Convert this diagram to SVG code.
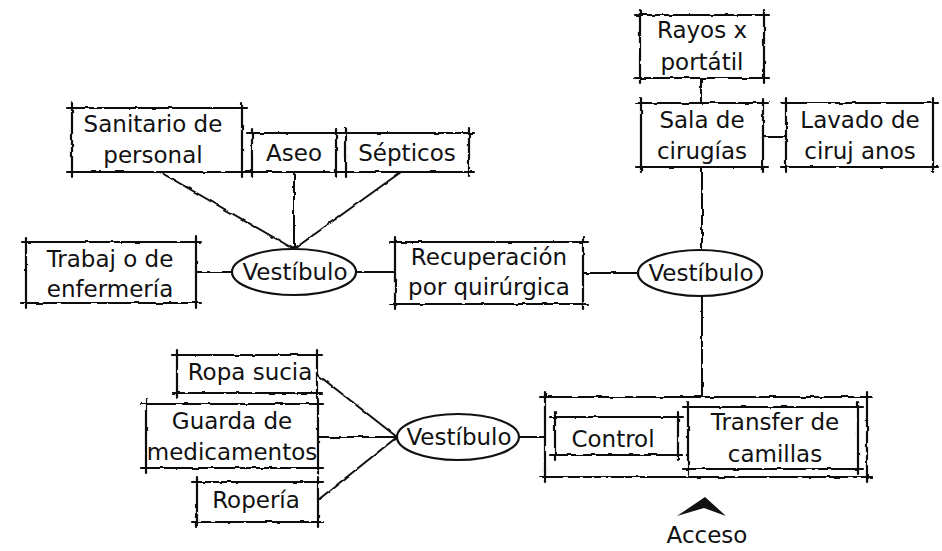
<svg xmlns="http://www.w3.org/2000/svg" width="942" height="551" viewBox="0 0 942 551">
<style>
.box{fill:none;stroke:#111;stroke-width:2.2;stroke-linecap:round;filter:url(#rough)}
.ell{fill:#fff;stroke:#111;stroke-width:2.2}
.con{fill:none;stroke:#111;stroke-width:2;filter:url(#rough)}
.t{font-family:"DejaVu Sans","Liberation Sans",sans-serif;font-size:23px;fill:#111;text-anchor:middle}
</style>
<defs>
<filter id="rough" filterUnits="userSpaceOnUse" x="0" y="0" width="942" height="551">
<feTurbulence type="fractalNoise" baseFrequency="0.12" numOctaves="1" seed="4" result="n"/>
<feDisplacementMap in="SourceGraphic" in2="n" scale="3" xChannelSelector="R" yChannelSelector="G"/>
</filter>
</defs>
<rect width="942" height="551" fill="#fff"/>
<g id="connectors">
<path class="con" d="M160,172 L294,249"/>
<path class="con" d="M294,172 L294,249"/>
<path class="con" d="M401,172 L294,249"/>
<path class="con" d="M196,272 L232,272"/>
<path class="con" d="M356,272 L395,272"/>
<path class="con" d="M583,273 L638,273"/>
<path class="con" d="M701,78 L701,103"/>
<path class="con" d="M763,137 L786,137"/>
<path class="con" d="M702,167 L702,250"/>
<path class="con" d="M702,296 L702,397"/>
<path class="con" d="M318,375 L397,437"/>
<path class="con" d="M318,437 L397,437"/>
<path class="con" d="M318,500 L397,437"/>
<path class="con" d="M519,437 L545,437"/>
</g>
<g id="sanitario">
<path class="box" d="M67,108H247M67,172H247M72,103V177M242,103V177"/>
<text class="t" x="153" y="132">Sanitario de</text>
<text class="t" x="153" y="163">personal</text>
</g>
<g id="aseo">
<path class="box" d="M247,133H341M247,172H341M252,128V177M336,128V177"/>
<text class="t" x="294" y="161">Aseo</text>
</g>
<g id="septicos">
<path class="box" d="M341,133H474M341,172H474M346,128V177M469,128V177"/>
<text class="t" x="407" y="161">Sépticos</text>
</g>
<g id="trabajo">
<path class="box" d="M21,242H201M21,303H201M26,237V308M196,237V308"/>
<text class="t" x="110" y="267">Trabaj o de</text>
<text class="t" x="110" y="297">enfermería</text>
</g>
<g id="vestibulo1">
<ellipse class="ell" cx="294" cy="272" rx="62" ry="23"/>
<text class="t" x="295" y="280">Vestíbulo</text>
</g>
<g id="recuperacion">
<path class="box" d="M390,242H588M390,304H588M395,237V309M583,237V309"/>
<text class="t" x="489" y="265">Recuperación</text>
<text class="t" x="489" y="295">por quirúrgica</text>
</g>
<g id="vestibulo2">
<ellipse class="ell" cx="700" cy="273" rx="62" ry="23"/>
<text class="t" x="701" y="281">Vestíbulo</text>
</g>
<g id="rayos">
<path class="box" d="M635,15H769M635,78H769M640,10V83M764,10V83"/>
<text class="t" x="702" y="38">Rayos x</text>
<text class="t" x="702" y="70">portátil</text>
</g>
<g id="sala">
<path class="box" d="M636,103H768M636,167H768M641,98V172M763,98V172"/>
<text class="t" x="702" y="128">Sala de</text>
<text class="t" x="702" y="159">cirugías</text>
</g>
<g id="lavado">
<path class="box" d="M781,103H938M781,167H938M786,98V172M933,98V172"/>
<text class="t" x="860" y="128">Lavado de</text>
<text class="t" x="860" y="159">ciruj anos</text>
</g>
<g id="ropa">
<path class="box" d="M172,355H322M172,393H322M177,350V398M317,350V398"/>
<text class="t" x="250" y="380">Ropa sucia</text>
</g>
<g id="guarda">
<path class="box" d="M141,404H323M141,468H323M146,399V473M318,399V473"/>
<text class="t" x="232" y="429">Guarda de</text>
<text class="t" x="232" y="460">medicamentos</text>
</g>
<g id="roperia">
<path class="box" d="M192,482H323M192,522H323M197,477V527M318,477V527"/>
<text class="t" x="256" y="508">Ropería</text>
</g>
<g id="vestibulo3">
<ellipse class="ell" cx="458" cy="437" rx="61" ry="23"/>
<text class="t" x="459" y="445">Vestíbulo</text>
</g>
<g id="acceso-area">
<path class="box" d="M540,397H872M540,477H872M545,392V482M867,392V482"/>
</g>
<g id="control">
<path class="box" d="M550,417H683M550,455H683M555,412V460M678,412V460"/>
<text class="t" x="613" y="447">Control</text>
</g>
<g id="transfer">
<path class="box" d="M683,407H863M683,469H863M688,402V474M858,402V474"/>
<text class="t" x="775" y="430">Transfer de</text>
<text class="t" x="775" y="462">camillas</text>
</g>
<g id="acceso">
<path d="M677,516 L705,497 L726,516 L704,508 Z" fill="#111"/>
<text class="t" x="707" y="543">Acceso</text>
</g>
</svg>
